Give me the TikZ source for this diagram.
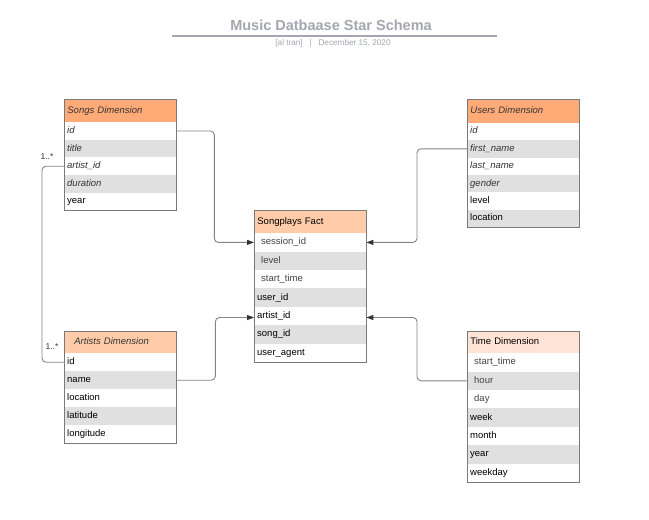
\documentclass[tikz,border=0pt]{standalone}
\usepackage{fontspec}
\setmainfont{Liberation Sans}
\usetikzlibrary{arrows.meta}
\definecolor{hdrA}{HTML}{FFAA77}
\definecolor{hdrB}{HTML}{FFCBA8}
\definecolor{hdrC}{HTML}{FFE4D6}
\definecolor{rowg}{HTML}{E0E0E0}
\definecolor{bordc}{HTML}{7A7A7A}
\definecolor{lineg}{HTML}{858585}
\definecolor{txtd}{HTML}{333333}
\definecolor{txti}{HTML}{444444}
\definecolor{titlec}{HTML}{A3A7AF}
\newcommand\fsz{\fontsize{9.5}{11}\selectfont}
\newcommand\ertable[9]{%
  \node[hdr,#6,minimum height=#4pt] (#1-0) at (#2,#3) {#7};
  \foreach \t/\f/\s [count=\i] in {#8}{
    \node[cell,fill=\f,\s,minimum height=#5pt] (#1-\i) at (#2,{#3+#4+(\i-1)*#5}) {\t};
  }
  \draw[bord] (#1-0.north west) rectangle (#1-#9.south east);
}
\tikzset{
  cell/.style={anchor=north west, inner xsep=3pt, inner ysep=0pt, text width=106pt,
    align=left, text height=7pt, text depth=2pt, font=\fsz, text=black},
  hdr/.style={cell, draw=bordc, line width=0.8pt},
  it/.style={font=\fsz\itshape, text=txtd},
  pl/.style={text=black},
  ind/.style={text=txti, execute at begin node=\hspace*{4pt}},
  bord/.style={draw=bordc, line width=0.8pt},
  conn/.style={draw=lineg, line width=0.9pt, rounded corners=4pt,
    -{Triangle[length=7pt,width=5pt,color=black!80]}},
  link/.style={draw=lineg, line width=0.9pt, rounded corners=4pt},
  mult/.style={font=\fontsize{8.5}{10}\selectfont, text=txtd, inner sep=0pt},
  titlest/.style={font=\fontsize{14.5}{17}\selectfont\bfseries, text=titlec, inner sep=0pt},
  subst/.style={font=\fontsize{8.2}{10}\selectfont, text=titlec, inner sep=0pt},
}
\begin{document}
\begin{tikzpicture}[x=1pt,y=-1pt]
\useasboundingbox (0,0) rectangle (649,520);
\fill[white] (0,0) rectangle (649,520);

\node[titlest] (title) at (331,25) {Music Datbaase Star Schema};
\coordinate (tl) at (172,36);
\coordinate (tr) at (497,36);
\draw[titlec, line width=1.2pt] (tl) -- (tr);
\node[subst] (sub) at (333,43.5) {[al tran]\ \ \ |\ \ \ December 15, 2020};

\ertable{songs}{64}{99}{23}{17.6}{fill=hdrA,it}{Songs Dimension}
  {{id}/white/it,{title}/rowg/it,{artist\_id}/white/it,{duration}/rowg/it,{year}/white/pl}{5}
\ertable{users}{467}{99}{23.5}{17.4}{fill=hdrA,it}{Users Dimension}
  {{id}/white/it,{first\_name}/rowg/it,{last\_name}/white/it,{gender}/rowg/it,{level}/white/pl,{location}/rowg/pl}{6}
\ertable{fact}{254}{210}{23}{18.4}{fill=hdrB}{Songplays Fact}
  {{session\_id}/white/ind,{level}/rowg/ind,{start\_time}/white/ind,{user\_id}/rowg/pl,{artist\_id}/white/pl,{song\_id}/rowg/pl,{user\_agent}/white/pl}{7}
\ertable{artists}{64}{331}{22}{18}{fill=hdrB,it,execute at begin node=\hspace*{7pt}}{Artists Dimension}
  {{id}/white/pl,{name}/rowg/pl,{location}/white/pl,{latitude}/rowg/pl,{longitude}/white/pl}{5}
\ertable{time}{467}{331}{22}{18.4}{fill=hdrC}{Time Dimension}
  {{start\_time}/white/ind,{hour}/rowg/ind,{day}/white/ind,{week}/rowg/pl,{month}/white/pl,{year}/rowg/pl,{weekday}/white/pl}{7}

\draw[conn] (songs-1.east) -- ++(38,0) |- (fact-1.west);
\draw[conn] (users-2.west) -- ++(-50,0) |- (fact-1.east);
\draw[conn] (artists-2.east) -- ++(39,0) |- ([yshift=-1.5pt]fact-5.west);
\draw[conn] (time-2.west) -- ++(-50,0) |- ([yshift=-1.5pt]fact-5.east);
\draw[link] (songs-3.west) -- ++(-22,0) |- (artists-1.west);

\node[mult] (m1) at (47,157) {1..*};
\node[mult] (m2) at (52,347) {1..*};
\end{tikzpicture}
\end{document}
